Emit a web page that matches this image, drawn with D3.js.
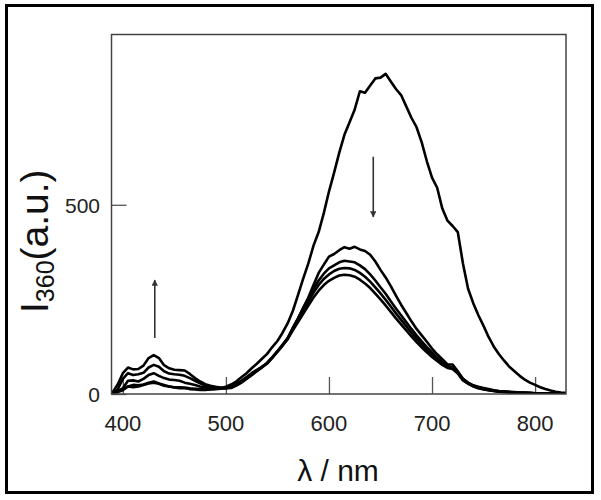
<!DOCTYPE html>
<html>
<head>
<meta charset="utf-8">
<script src="https://cdn.jsdelivr.net/npm/d3@7"></script>
<style>
  html, body { margin: 0; padding: 0; background: #fff; }
  svg { display: block; }
</style>
</head>
<body>
<svg id="chart" width="601" height="500"></svg>
<script>
// wavelengths (nm), 5 nm steps 390..830
const wavelengths = d3.range(390, 831, 5);

// Series (a.u.)
const seriesA = [2,8,14,20,18,20,24,28,30,27,22,20,18,18,17,15,14,13,12,13,14,16,19,25,33,44,55,68,80,93,106,124,140,162,187,220,262,305,345,392,428,478,535,585,638,685,718,752,800,796,815,834,836,846,826,806,790,760,730,705,665,615,572,545,490,458,444,428,345,278,240,208,180,150,125,105,88,72,60,48,38,30,24,18,13,9,6,4,3];
const seriesB = [1,5,10,20,24,23,25,30,33,28,24,20,17,15,15,13,12,11,11,12,13,14,16,20,27,35,45,55,64,72,80,96,112,128,145,175,200,228,255,288,320,342,363,370,380,388,384,389,382,378,368,350,328,308,285,260,236,214,192,172,155,138,120,105,92,78,78,60,40,30,23,19,16,13,10,8,7,6,5,4,3,3,2,2,2,1,1,1,1];
const seriesC = [1,6,15,35,36,33,40,50,55,48,42,38,37,35,30,27,24,20,17,16,15,15,16,19,25,33,43,53,62,72,82,97,113,130,148,175,200,226,252,278,300,318,332,340,348,352,350,348,340,330,316,300,282,265,245,226,208,190,172,155,139,124,110,96,84,74,70,58,40,29,22,17,14,11,9,7,6,5,4,4,3,3,2,2,1,1,1,1,1];
const seriesD = [1,12,40,55,50,52,56,70,77,72,60,54,52,51,48,42,35,28,22,18,16,15,15,17,23,31,41,51,61,71,82,97,113,130,148,172,196,220,244,268,288,304,316,325,331,333,332,328,320,310,297,282,266,249,231,213,196,179,162,146,131,117,104,92,81,72,68,56,38,28,21,16,13,10,8,7,6,5,4,3,3,2,2,2,1,1,1,1,1];
const seriesE = [4,25,55,70,65,66,75,95,103,95,76,68,64,63,62,53,42,33,26,22,19,17,15,16,22,30,40,50,60,70,81,96,112,128,146,168,190,212,234,255,273,288,299,307,313,315,314,310,302,292,280,265,250,234,217,200,184,168,152,137,123,110,98,87,77,69,66,54,36,27,20,15,12,10,8,6,5,4,4,3,3,2,2,1,1,1,1,1,1];

const xTicks = [400, 500, 600, 700, 800];
const yTicks = [0, 500];
const xDomain = [389, 830];
const yDomain = [0, 950];

// arrows in data coordinates: [lambda, fromValue, toValue]
const arrows = [[431, 148, 301], [643, 627, 468]];

const svg = d3.select("#chart");
const m = { left: 111.5, right: 566, top: 34.5, bottom: 394 };

const x = d3.scaleLinear().domain(xDomain).range([m.left, m.right]);
const y = d3.scaleLinear().domain(yDomain).range([m.bottom, m.top]);

// outer border
svg.append("rect")
  .attr("x", 6.5).attr("y", 5.5).attr("width", 586).attr("height", 487)
  .attr("fill", "none").attr("stroke", "#000").attr("stroke-width", 3);

const defs = svg.append("defs");
defs.append("marker")
  .attr("id", "ah").attr("viewBox", "0 0 10 10")
  .attr("refX", 9).attr("refY", 5)
  .attr("markerWidth", 4).attr("markerHeight", 4)
  .attr("markerUnits", "strokeWidth")
  .attr("orient", "auto")
  .append("path").attr("d", "M0,0 L10,5 L0,10 Z").attr("fill", "#333");

// ticks (inward)
const xAxis = d3.axisBottom(x).tickValues(xTicks).tickSize(-17).tickFormat("");
svg.append("g").attr("transform", `translate(0,${m.bottom})`).call(xAxis)
  .call(g => g.select(".domain").remove())
  .call(g => g.selectAll("line").attr("stroke", "#555").attr("stroke-width", 1.3));
const yAxis = d3.axisLeft(y).tickValues(yTicks).tickSize(-15).tickFormat("");
svg.append("g").attr("transform", `translate(${m.left},0)`).call(yAxis)
  .call(g => g.select(".domain").remove())
  .call(g => g.selectAll("line").attr("stroke", "#555").attr("stroke-width", 1.3));

// tick labels
svg.append("g").selectAll("text").data(xTicks).join("text")
  .attr("x", d => x(d)).attr("y", 431)
  .attr("text-anchor", "middle")
  .attr("font-family", "Liberation Sans, Arial, sans-serif")
  .attr("font-size", 22).attr("fill", "#222")
  .text(d => d);
svg.append("g").selectAll("text").data(yTicks).join("text")
  .attr("x", 100).attr("y", d => y(d) + 8)
  .attr("text-anchor", "end")
  .attr("font-family", "Liberation Sans, Arial, sans-serif")
  .attr("font-size", 21).attr("fill", "#222")
  .text(d => d);

// curves
const series = [seriesA, seriesB, seriesC, seriesD, seriesE];
const line = d3.line()
  .x((d, i) => x(wavelengths[i]))
  .y(d => y(d));
const clip = defs.append("clipPath").attr("id", "clip");
clip.append("rect").attr("x", m.left).attr("y", m.top)
  .attr("width", m.right - m.left).attr("height", m.bottom - m.top);
svg.append("g").attr("clip-path", "url(#clip)")
  .selectAll("path").data(series).join("path")
  .attr("d", line)
  .attr("fill", "none").attr("stroke", "#000")
  .attr("stroke-width", 2.6).attr("stroke-linejoin", "round");

// frame
svg.append("rect")
  .attr("x", m.left).attr("y", m.top)
  .attr("width", m.right - m.left).attr("height", m.bottom - m.top)
  .attr("fill", "none").attr("stroke", "#444").attr("stroke-width", 1.5);

// arrows
svg.append("g").selectAll("line").data(arrows).join("line")
  .attr("x1", d => x(d[0])).attr("x2", d => x(d[0]))
  .attr("y1", d => y(d[1])).attr("y2", d => y(d[2]))
  .attr("stroke", "#333").attr("stroke-width", 1.6)
  .attr("marker-end", "url(#ah)");

// axis titles
svg.append("text")
  .attr("x", 338).attr("y", 481)
  .attr("text-anchor", "middle")
  .attr("font-family", "Liberation Sans, Arial, sans-serif")
  .attr("font-size", 30).attr("fill", "#111")
  .text("λ / nm");

const yt = svg.append("text")
  .attr("transform", "translate(48,313) rotate(-90)")
  .attr("text-anchor", "start")
  .attr("font-family", "Liberation Sans, Arial, sans-serif")
  .attr("font-size", 39).attr("fill", "#111");
yt.append("tspan").text("I");
yt.append("tspan").attr("font-size", 25).attr("dy", 6).text("360");
yt.append("tspan").attr("dy", -6).text("(a.u.)");
</script>
</body>
</html>
